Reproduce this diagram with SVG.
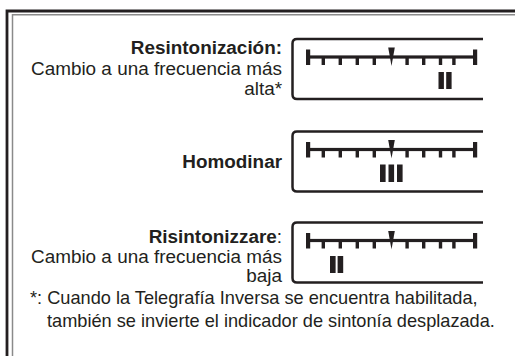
<svg xmlns="http://www.w3.org/2000/svg" xmlns:xlink="http://www.w3.org/1999/xlink" width="515" height="356" viewBox="0 0 515 356">
<style>
text{font-family:"Liberation Sans",Arial,Helvetica,sans-serif;font-size:18.9px;fill:#231f20}
.b{font-weight:bold}
.r{text-anchor:end}
.n{font-size:18.2px}
.ink{fill:#231f20}
.box{fill:none;stroke:#231f20;stroke-width:2.5}
</style>
<defs>
<g id="scale">
<path class="box" d="M483,0 H297 Q292.5,0 292.5,4.5 V55.5 Q292.5,60 297,60 H483"/>
<rect class="ink" x="308" y="16.4" width="167" height="3.2"/>
<rect class="ink" x="306" y="10.5" width="4.2" height="15.5"/>
<rect class="ink" x="473" y="10.5" width="4.2" height="15.5"/>
<rect class="ink" x="321.6" y="19" width="3.4" height="7"/>
<rect class="ink" x="338.6" y="19" width="3.4" height="7"/>
<rect class="ink" x="355.6" y="19" width="3.4" height="7"/>
<rect class="ink" x="372.6" y="19" width="3.4" height="7"/>
<rect class="ink" x="405.4" y="19" width="3.4" height="7"/>
<rect class="ink" x="422" y="19" width="3.4" height="7"/>
<rect class="ink" x="438.8" y="19" width="3.4" height="7"/>
<rect class="ink" x="452.2" y="19" width="3.4" height="7"/>
<polygon class="ink" points="388.2,8.5 394.8,8.5 391.5,27"/>
</g>
</defs>
<g id="frame">
<path d="M7,356 V11 H515" fill="none" stroke="#231f20" stroke-width="2.8"/>
<path d="M12.5,356 V14.8 H515" fill="none" stroke="#8a8a8a" stroke-width="1.5"/>
</g>
<g id="panel-resintonizacion">
<text class="b r" x="282" y="54">Resintonización:</text>
<text class="r" x="282" y="74.5">Cambio a una frecuencia más</text>
<text class="r" x="282" y="95">alta*</text>
<use xlink:href="#scale" href="#scale" transform="translate(0,39)"/>
<rect class="ink" x="438.5" y="72" width="5.4" height="17"/>
<rect class="ink" x="446.2" y="72" width="5.4" height="17"/>
</g>
<g id="panel-homodinar">
<text class="b r" x="282" y="168">Homodinar</text>
<use xlink:href="#scale" href="#scale" transform="translate(0,131.5)"/>
<rect class="ink" x="380" y="164.5" width="5.6" height="17.5"/>
<rect class="ink" x="388.5" y="164.5" width="5.6" height="17.5"/>
<rect class="ink" x="397" y="164.5" width="5.6" height="17.5"/>
</g>
<g id="panel-risintonizzare">
<text class="r" x="282" y="242.5"><tspan class="b">Risintonizzare</tspan>:</text>
<text class="r" x="282" y="262.5">Cambio a una frecuencia más</text>
<text class="r" x="282" y="282">baja</text>
<use xlink:href="#scale" href="#scale" transform="translate(0,222.5)"/>
<rect class="ink" x="330" y="256" width="5.6" height="17"/>
<rect class="ink" x="337.6" y="256" width="5.6" height="17"/>
</g>
<g id="note">
<text class="n" x="30" y="304">*: Cuando la Telegrafía Inversa se encuentra habilitada,</text>
<text class="n" x="47" y="327">también se invierte el indicador de sintonía desplazada.</text>
</g>
</svg>
